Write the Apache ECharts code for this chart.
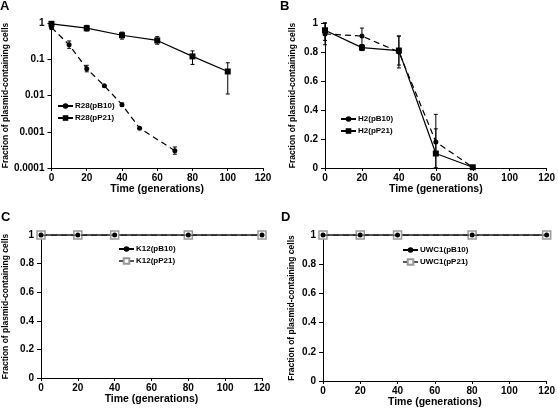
<!DOCTYPE html>
<html><head><meta charset="utf-8">
<script src="https://cdn.jsdelivr.net/npm/echarts@6/dist/echarts.min.js"></script>
<style>html,body{margin:0;padding:0;background:#fff}#c{width:558px;height:411px}</style>
</head><body><div id="c"></div>
<script>
// ---- Data ----
const xTicks = [0, 20, 40, 60, 80, 100, 120];
// Panel A (log scale)
const A_names = ['R28(pB10)', 'R28(pP21)'];
const A_t_B10 = [0, 10, 20, 30, 40, 50, 70];
const A_B10   = [0.75, 0.25, 0.055, 0.0185, 0.0056, 0.00125, 0.0003];
const A_B10_lo = [0.68, 0.2, 0.045, 0.0185, 0.005, 0.00125, 0.00024];
const A_B10_hi = [0.83, 0.32, 0.068, 0.0185, 0.0062, 0.00125, 0.00038];
const A_t_P21 = [0, 20, 40, 60, 80, 100];
const A_P21   = [0.95, 0.72, 0.46, 0.33, 0.12, 0.046];
const A_P21_lo = [0.83, 0.6, 0.36, 0.26, 0.072, 0.011];
const A_P21_hi = [1.05, 0.86, 0.56, 0.42, 0.17, 0.08];
const A_yTicks = [0.0001, 0.001, 0.01, 0.1, 1];
// Panel B
const B_names = ['H2(pB10)', 'H2(pP21)'];
const B_t = [0, 20, 40, 60, 80];
const B_B10 = [0.925, 0.91, 0.80, 0.18, 0.005];
const B_B10_lo = [0.85, 0.85, 0.69, 0.0, 0.0];
const B_B10_hi = [1.0, 0.965, 0.91, 0.37, 0.01];
const B_P21 = [0.95, 0.83, 0.81, 0.10, 0.005];
const B_P21_lo = [0.88, 0.81, 0.71, 0.0, 0.0];
const B_P21_hi = [1.0, 0.85, 0.91, 0.27, 0.01];
// Panel C
const C_names = ['K12(pB10)', 'K12(pP21)'];
const C_t = [0, 20, 40, 80, 120];
const C_B10 = [1, 1, 1, 1, 1];
const C_P21 = [1, 1, 1, 1, 1];
// Panel D
const D_names = ['UWC1(pB10)', 'UWC1(pP21)'];
const D_t = [0, 20, 40, 80, 120];
const D_B10 = [1, 1, 1, 1, 1];
const D_P21 = [1, 1, 1, 1, 1];
const linYTicks = [0, 0.2, 0.4, 0.6, 0.8, 1];

// ---- Helpers ----
const FF = 'Liberation Sans, Arial, sans-serif';
const pairs = (xs, ys) => xs.map((x, i) => [x, ys[i]]);
const errData = (xs, lo, hi) => xs.map((x, i) => [x, lo[i], hi[i]]);

function xAxis(gi, nameGap) {
  return {
    gridIndex: gi, type: 'value', min: 0, max: 120, interval: 20,
    name: 'Time (generations)', nameLocation: 'middle', nameGap: nameGap,
    nameTextStyle: {fontFamily: FF, fontWeight: 'bold', fontSize: 10.5, color: '#000'},
    axisLine: {show: true, lineStyle: {color: '#000', width: 1}},
    axisTick: {show: true, length: 3, lineStyle: {color: '#000'}},
    axisLabel: {fontFamily: FF, fontWeight: 'bold', fontSize: 10, color: '#000', margin: 5},
    splitLine: {show: false}
  };
}
function yAxisLin(gi, nameGap) {
  return {
    gridIndex: gi, type: 'value', min: 0, max: 1, interval: 0.2,
    name: 'Fraction of plasmid-containing cells', nameLocation: 'middle', nameGap: nameGap,
    nameTextStyle: {fontFamily: FF, fontWeight: 'bold', fontSize: 8.5, color: '#000'},
    axisLine: {show: true, lineStyle: {color: '#000', width: 1}},
    axisTick: {show: true, length: 4, lineStyle: {color: '#000'}},
    axisLabel: {fontFamily: FF, fontWeight: 'bold', fontSize: 10, color: '#000', margin: 7,
      formatter: v => String(Number(v.toFixed(1)))},
    splitLine: {show: false}
  };
}
function errSeries(xi, yi, data, color) {
  return {
    type: 'custom', xAxisIndex: xi, yAxisIndex: yi, data: data, silent: true, z: 1,
    encode: {x: 0, y: [1, 2]},
    renderItem: function (params, api) {
      const x = api.value(0), lo = api.value(1), hi = api.value(2);
      const p1 = api.coord([x, lo]), p2 = api.coord([x, hi]);
      const w = 2;
      const st = {stroke: color, lineWidth: 1};
      return {type: 'group', children: [
        {type: 'line', shape: {x1: p1[0], y1: p1[1], x2: p2[0], y2: p2[1]}, style: st},
        {type: 'line', shape: {x1: p1[0] - w, y1: p1[1], x2: p1[0] + w, y2: p1[1]}, style: st},
        {type: 'line', shape: {x1: p2[0] - w, y1: p2[1], x2: p2[0] + w, y2: p2[1]}, style: st}
      ]};
    }
  };
}
function lineB10(name, xi, data) {
  return {name: name, type: 'line', xAxisIndex: xi, yAxisIndex: xi, data: data, z: 3,
    symbol: 'circle', symbolSize: 5, showSymbol: true,
    lineStyle: {color: '#000', width: 1.2, type: [6, 4]}, itemStyle: {color: '#000'}, animation: false};
}
function lineP21(name, xi, data) {
  return {name: name, type: 'line', xAxisIndex: xi, yAxisIndex: xi, data: data, z: 2,
    symbol: 'rect', symbolSize: 6, showSymbol: true,
    lineStyle: {color: '#000', width: 1.2, type: 'solid'}, itemStyle: {color: '#000'}, animation: false};
}
function lineP21gray(name, xi, data) {
  return {name: name, type: 'line', xAxisIndex: xi, yAxisIndex: xi, data: data, z: 2,
    symbol: 'rect', symbolSize: 8, showSymbol: true,
    lineStyle: {color: '#555', width: 2.2, type: 'solid'},
    itemStyle: {color: '#fff', borderColor: '#999', borderWidth: 1.5}, animation: false};
}
function legend(names, left, top) {
  return {
    orient: 'vertical', left: left, top: top, itemWidth: 15, itemHeight: 7, itemGap: 4,
    data: names, selectedMode: false,
    textStyle: {fontFamily: FF, fontWeight: 'bold', fontSize: 8, color: '#000', padding: [0, 0, 0, -3]},
    padding: 0
  };
}

const chart = echarts.init(document.getElementById('c'), null, {renderer: 'canvas'});
const option = {
  animation: false,
  backgroundColor: '#fff',
  grid: [
    {left: 44, top: 23, width: 219, height: 145},
    {left: 325, top: 23, width: 224, height: 145},
    {left: 38, top: 235, width: 224, height: 143},
    {left: 323, top: 235, width: 225, height: 146}
  ],
  xAxis: [xAxis(0, 10), xAxis(1, 10), xAxis(2, 10), xAxis(3, 9)],
  yAxis: [
    {gridIndex: 0, type: 'log', logBase: 10, min: 0.0001, max: 1,
      name: 'Fraction of plasmid-containing cells', nameLocation: 'middle', nameGap: 37,
      nameTextStyle: {fontFamily: FF, fontWeight: 'bold', fontSize: 8.5, color: '#000'},
      axisLine: {show: true, lineStyle: {color: '#000', width: 1}},
      axisTick: {show: true, length: 4, lineStyle: {color: '#000'}},
      axisLabel: {fontFamily: FF, fontWeight: 'bold', fontSize: 10, color: '#000', margin: 7,
        formatter: v => String(Number(v.toPrecision(2)))},
      splitLine: {show: false}},
    yAxisLin(1, 28), yAxisLin(2, 31), yAxisLin(3, 27)
  ],
  legend: [
    legend(A_names, 57, 102),
    legend(B_names, 340, 115),
    legend(C_names, 118, 245),
    legend(D_names, 402, 246)
  ],
  graphic: [
    {type: 'text', left: 0, top: 0, style: {text: 'A', font: 'bold 13px ' + FF, fill: '#000'}},
    {type: 'text', left: 280, top: 0, style: {text: 'B', font: 'bold 13px ' + FF, fill: '#000'}},
    {type: 'text', left: 1, top: 211, style: {text: 'C', font: 'bold 13px ' + FF, fill: '#000'}},
    {type: 'text', left: 281, top: 211, style: {text: 'D', font: 'bold 13px ' + FF, fill: '#000'}}
  ],
  series: [
    errSeries(0, 0, errData(A_t_B10, A_B10_lo, A_B10_hi), '#000'),
    errSeries(0, 0, errData(A_t_P21, A_P21_lo, A_P21_hi), '#000'),
    lineB10(A_names[0], 0, pairs(A_t_B10, A_B10)),
    lineP21(A_names[1], 0, pairs(A_t_P21, A_P21)),
    errSeries(1, 1, errData(B_t, B_B10_lo, B_B10_hi), '#000'),
    errSeries(1, 1, errData(B_t, B_P21_lo, B_P21_hi), '#000'),
    lineB10(B_names[0], 1, pairs(B_t, B_B10)),
    lineP21(B_names[1], 1, pairs(B_t, B_P21)),
    lineP21gray(C_names[1], 2, pairs(C_t, C_P21)),
    lineB10(C_names[0], 2, pairs(C_t, C_B10)),
    lineP21gray(D_names[1], 3, pairs(D_t, D_P21)),
    lineB10(D_names[0], 3, pairs(D_t, D_B10))
  ]
};
chart.setOption(option);
</script></body></html>
